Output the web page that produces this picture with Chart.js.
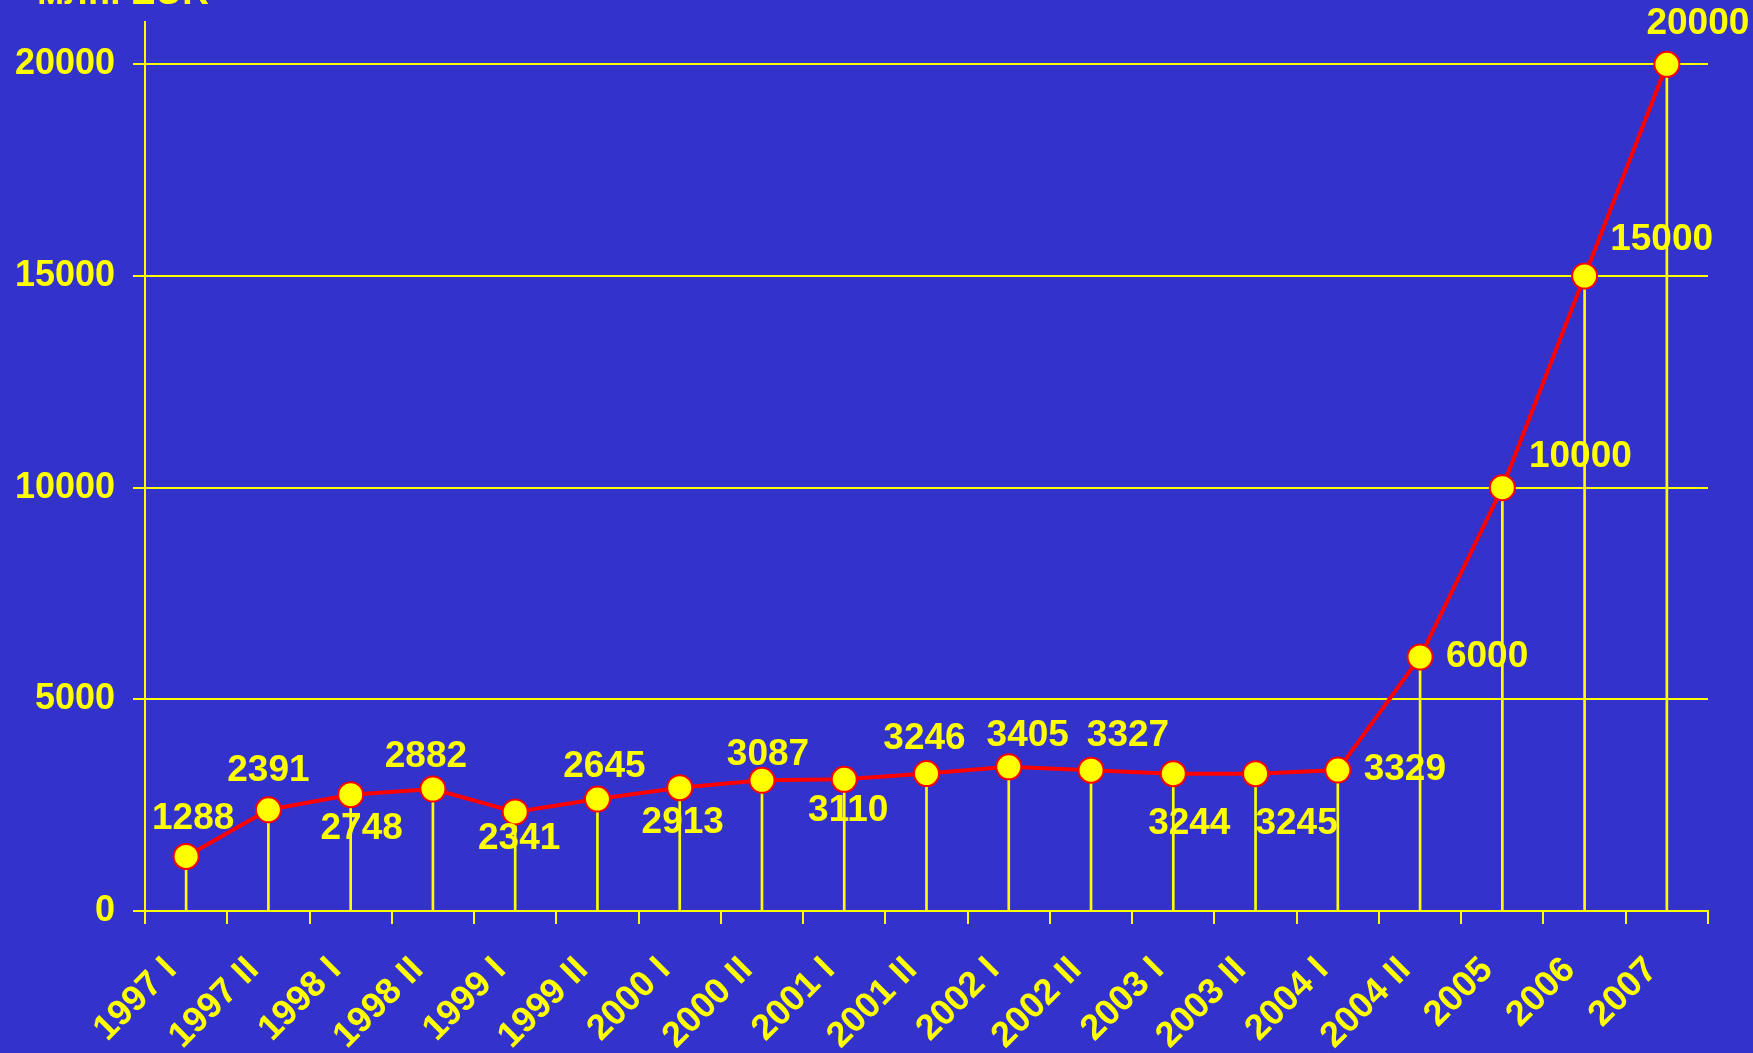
<!DOCTYPE html>
<html>
<head>
<meta charset="utf-8">
<script src="https://cdn.jsdelivr.net/npm/chart.js@4.4.0/dist/chart.umd.min.js"></script>
<style>
  html, body { margin: 0; padding: 0; background: #3333cc; }
  canvas { display: block; }
</style>
</head>
<body>
<canvas id="chart" width="1753" height="1053"></canvas>
<script>
// periods on the x axis
var periods = ['1997 I', '1997 II', '1998 I', '1998 II', '1999 I', '1999 II',
  '2000 I', '2000 II', '2001 I', '2001 II', '2002 I', '2002 II',
  '2003 I', '2003 II', '2004 I', '2004 II', '2005', '2006', '2007'];

// values
var values = [1288, 2391, 2748, 2882, 2341, 2645, 2913, 3087, 3110, 3246,
  3405, 3327, 3244, 3245, 3329, 6000, 10000, 15000, 20000];

var yTicks = [0, 5000, 10000, 15000, 20000];
var unitLabel = 'млн. EUR';

var YELLOW = '#ffff00';
var RED = '#ff0000';
var FONT = '"Liberation Sans", Arial, sans-serif';

// where each value label sits relative to its point (px)
var labelOffsets = [
  [7, -38], [0, -39], [11, 34], [-7, -32], [4, 27], [7, -32], [3, 35],
  [6, -26], [4, 31], [-2, -35], [19, -31], [37, -34], [16, 50], [41, 50],
  [67, 0], [67, 0], [78, -31], [77, -36], [31, -41]
];

var valueLabels = {
  id: 'valueLabels',
  afterDatasetsDraw: function(chart) {
    var ctx = chart.ctx;
    var meta = chart.getDatasetMeta(1);
    ctx.save();
    ctx.fillStyle = YELLOW;
    ctx.font = 'bold 37px ' + FONT;
    ctx.textAlign = 'center';
    ctx.textBaseline = 'middle';
    meta.data.forEach(function(pt, i) {
      var off = labelOffsets[i];
      ctx.fillText(String(values[i]), pt.x + off[0], pt.y + off[1]);
    });
    // unit caption, mostly cut off at the top edge
    ctx.textAlign = 'left';
    ctx.textBaseline = 'alphabetic';
    ctx.fillText(unitLabel, 37, 4);
    ctx.restore();
  }
};

new Chart(document.getElementById('chart'), {
  type: 'bar',
  data: {
    labels: periods,
    datasets: [
      {
        // thin drop lines from each point to the axis
        type: 'bar',
        data: values,
        backgroundColor: YELLOW,
        barThickness: 2,
        order: 2
      },
      {
        type: 'line',
        data: values,
        borderColor: RED,
        borderWidth: 4,
        tension: 0,
        pointRadius: 12.5,
        pointBackgroundColor: YELLOW,
        pointBorderColor: RED,
        pointBorderWidth: 2,
        order: 1
      }
    ]
  },
  options: {
    responsive: false,
    animation: false,
    layout: { padding: { top: 22, right: 45, left: 0, bottom: 0 } },
    plugins: {
      legend: { display: false },
      tooltip: { enabled: false }
    },
    scales: {
      x: {
        offset: true,
        afterFit: function(scale) { scale.height = 142; },
        grid: {
          offset: true,
          drawOnChartArea: false,
          color: YELLOW,
          lineWidth: 2,
          tickLength: 13
        },
        border: { color: YELLOW, width: 2 },
        ticks: {
          color: YELLOW,
          font: { family: FONT, size: 36, weight: 'bold' },
          autoSkip: false,
          maxRotation: 45,
          minRotation: 45,
          padding: 25,
          labelOffset: -15
        }
      },
      y: {
        min: 0,
        max: 21000,
        afterFit: function(scale) {
          scale.width = 145;
          scale.paddingTop = 0;
          scale.paddingBottom = 0;
        },
        afterBuildTicks: function(scale) {
          scale.ticks = yTicks.map(function(v) { return { value: v }; });
        },
        grid: {
          color: YELLOW,
          lineWidth: 2,
          tickLength: 12
        },
        border: { color: YELLOW, width: 2 },
        ticks: {
          color: YELLOW,
          font: { family: FONT, size: 36, weight: 'bold' },
          padding: 18,
          callback: function(v) { return String(v); }
        }
      }
    }
  },
  plugins: [valueLabels]
});
</script>
</body>
</html>
